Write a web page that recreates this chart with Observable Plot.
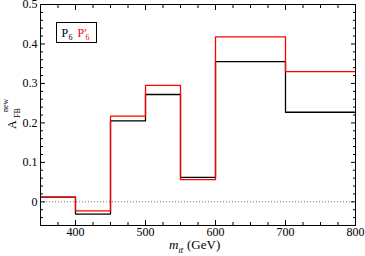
<!DOCTYPE html>
<html><head><meta charset="utf-8">
<script src="https://cdn.jsdelivr.net/npm/d3@7"></script>
<script src="https://cdn.jsdelivr.net/npm/@observablehq/plot@0.6"></script>
<style>body{margin:0;background:#fff;} svg{display:block;overflow:visible}</style>
</head><body><div id="chart"></div>
<script>
const binEdges = [350, 400, 450, 500, 550, 600, 700, 800];
const blackValues = [0.012, -0.031, 0.205, 0.272, 0.062, 0.355, 0.227];
const redValues = [0.012, -0.023, 0.217, 0.295, 0.056, 0.418, 0.330];
const xMajor = [400, 500, 600, 700, 800];
const xMinor = [375, 425, 450, 475, 525, 550, 575, 625, 650, 675, 725, 750, 775];
const yMajor = [0, 0.1, 0.2, 0.3, 0.4, 0.5];
const yMinor = [-0.04, -0.02, 0.02, 0.04, 0.06, 0.08, 0.12, 0.14, 0.16, 0.18, 0.22, 0.24, 0.26, 0.28, 0.32, 0.34, 0.36, 0.38, 0.42, 0.44, 0.46, 0.48];

function steps(vals) {
  const pts = vals.map((v, i) => ({x: binEdges[i], y: v}));
  pts.push({x: binEdges[binEdges.length - 1], y: vals[vals.length - 1]});
  return pts;
}
const ff = "'Liberation Serif', 'DejaVu Serif', serif";

const chart = Plot.plot({
  width: 365, height: 256,
  marginLeft: 40, marginRight: 10, marginTop: 4, marginBottom: 31,
  style: {fontFamily: ff, fontSize: "12px", background: "#fff", overflow: "visible"},
  x: {domain: [350, 800]},
  y: {domain: [-0.06, 0.5]},
  marks: [
    Plot.ruleY([0], {stroke: "#777", strokeDasharray: "1,2", strokeWidth: 1}),
    Plot.line(steps(blackValues), {x: "x", y: "y", curve: "step-after", stroke: "#000", strokeWidth: 1.3}),
    Plot.line(steps(redValues), {x: "x", y: "y", curve: "step-after", stroke: "#ff0000", strokeWidth: 1.3}),
    Plot.frame({stroke: "#000", strokeWidth: 1}),
    Plot.axisX(xMajor, {anchor: "bottom", tickSize: -5, tickPadding: 7, label: null, fontSize: 12}),
    Plot.axisX(xMinor, {anchor: "bottom", tickSize: -3, text: null, label: null}),
    Plot.axisX(xMajor, {anchor: "top", tickSize: -5, text: null, label: null}),
    Plot.axisX(xMinor, {anchor: "top", tickSize: -3, text: null, label: null}),
    Plot.axisY(yMajor, {anchor: "left", tickSize: -5, tickPadding: 8, label: null, fontSize: 12, tickFormat: d => d === 0 ? "0" : d.toFixed(1)}),
    Plot.axisY(yMinor, {anchor: "left", tickSize: -3, text: null, label: null}),
    Plot.axisY(yMajor, {anchor: "right", tickSize: -5, text: null, label: null}),
    Plot.axisY(yMinor, {anchor: "right", tickSize: -3, text: null, label: null})
  ]
});
document.getElementById("chart").appendChild(chart);

const svg = d3.select(chart);
function txt(t, x, y, size, opts = {}) {
  const e = svg.append("text").attr("text-anchor", "start").attr("font-family", ff)
    .attr("font-size", size).attr("fill", opts.fill || "#000").text(t);
  if (opts.italic) e.attr("font-style", "italic");
  if (opts.rotate) e.attr("transform", `translate(${x},${y}) rotate(-90)`);
  else e.attr("x", x).attr("y", y);
  return e;
}
// y label
txt("A", 16, 129, 12, {rotate: true});
txt("FB", 19.5, 118, 8, {rotate: true});
txt("new", 8, 112, 8, {rotate: true});
// x label
txt("m", 169, 248.5, 13, {italic: true});
txt("tt\u0304", 178.5, 253, 8, {italic: true});
txt("(GeV)", 187, 248.5, 13);
// legend
svg.append("rect").attr("x", 56.5).attr("y", 22.5).attr("width", 40).attr("height", 20)
  .attr("fill", "#fff").attr("stroke", "#000").attr("stroke-width", 1);
txt("P", 61.5, 37, 12);
txt("6", 68.5, 40, 8);
txt("P\u2032", 77.5, 37, 12, {fill: "#ff0000"});
txt("6", 85.5, 40, 8, {fill: "#ff0000"});
</script></body></html>
